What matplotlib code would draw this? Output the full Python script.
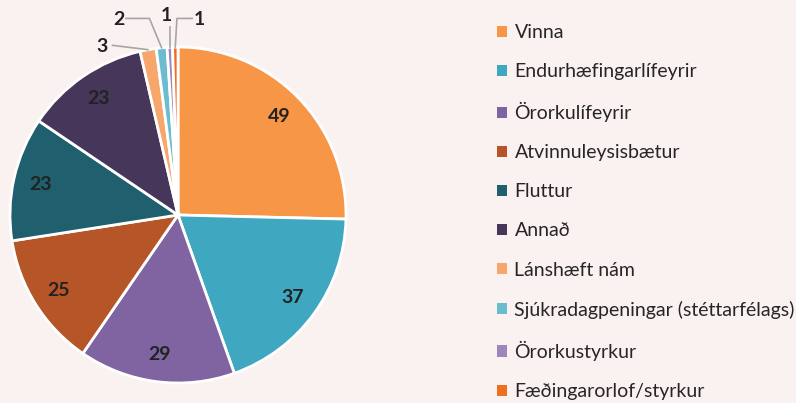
import numpy as np
import matplotlib.pyplot as plt

categories = ['Vinna', 'Endurhæfingarlífeyrir', 'Örorkulífeyrir', 'Atvinnuleysisbætur',
              'Fluttur', 'Annað', 'Lánshæft nám', 'Sjúkradagpeningar (stéttarfélags)',
              'Örorkustyrkur', 'Fæðingarorlof/styrkur']
values = [49, 37, 29, 25, 23, 23, 3, 2, 1, 1]
colors = ['#F79646', '#3FA7C0', '#8064A2', '#B65527', '#1F5F6E',
          '#46365A', '#F7A66C', '#6BBCCF', '#9D86BC', '#EE6F1E']

bg = '#FAF2F0'
plt.rcParams['font.family'] = ['Lato', 'DejaVu Sans']

fig = plt.figure(figsize=(7.96, 4.03), dpi=100, facecolor=bg)
W, H = 796, 403
cx, cy, r = 178, 215, 168
ax = fig.add_axes([(cx - r) / W, (H - cy - r) / H, 2 * r / W, 2 * r / H])
ax.set_facecolor(bg)

wedges, _ = ax.pie(values, colors=colors, startangle=90, counterclock=False,
                   radius=1, wedgeprops=dict(edgecolor='white', linewidth=2))
ax.set_xlim(-1, 1)
ax.set_ylim(-1, 1)
ax.set_aspect('equal')
ax.axis('off')

# big slices: labels inside near the edge
for w, v in zip(wedges, values):
    mid = np.deg2rad((w.theta1 + w.theta2) / 2)
    if v >= 10:
        ax.text(0.84 * np.cos(mid), 0.84 * np.sin(mid), str(v), ha='center', va='center',
                fontsize=14, fontweight='bold', color='#222222')

# small slices: labels outside with leader lines
small = {6: ((-0.45, 1.01), (-0.2, 1.01)),
         7: ((-0.35, 1.17), (-0.22, 1.17)),
         8: ((-0.07, 1.19), (-0.045, 1.11)),
         9: ((0.125, 1.17), (0.0, 1.11))}
for i, (tpos, knee) in small.items():
    w = wedges[i]
    mid = np.deg2rad((w.theta1 + w.theta2) / 2)
    ex, ey = 1.0 * np.cos(mid), 1.0 * np.sin(mid)
    if i == 6:
        xs, ys = [tpos[0] + 0.06, ex], [tpos[1], ey]
    elif i == 7:
        xs, ys = [tpos[0] + 0.04, knee[0] + 0.05, ex], [tpos[1], tpos[1], ey]
    elif i == 8:
        xs, ys = [ex, ex], [tpos[1] - 0.07, ey]
    else:
        xs, ys = [tpos[0] - 0.04, ex + 0.01, ex], [tpos[1], tpos[1], ey]
    ax.plot(xs, ys, color='#A6A6A6', lw=1.2, clip_on=False)
    ax.text(tpos[0], tpos[1] - 0.005, str(values[i]), ha='center', va='center',
            fontsize=14, fontweight='bold', color='#222222')

leg = fig.legend(wedges, categories, loc='upper left', bbox_to_anchor=(497 / W, 1 - 24 / H),
                 frameon=False, fontsize=14, handlelength=0.5, handleheight=0.5,
                 handletextpad=0.4, labelspacing=1.135, borderpad=0, borderaxespad=0)
for t in leg.get_texts():
    t.set_color('#262626')
for p in leg.get_patches():
    p.set_edgecolor('none')

fig.savefig('out.png', dpi=100, facecolor=bg)
